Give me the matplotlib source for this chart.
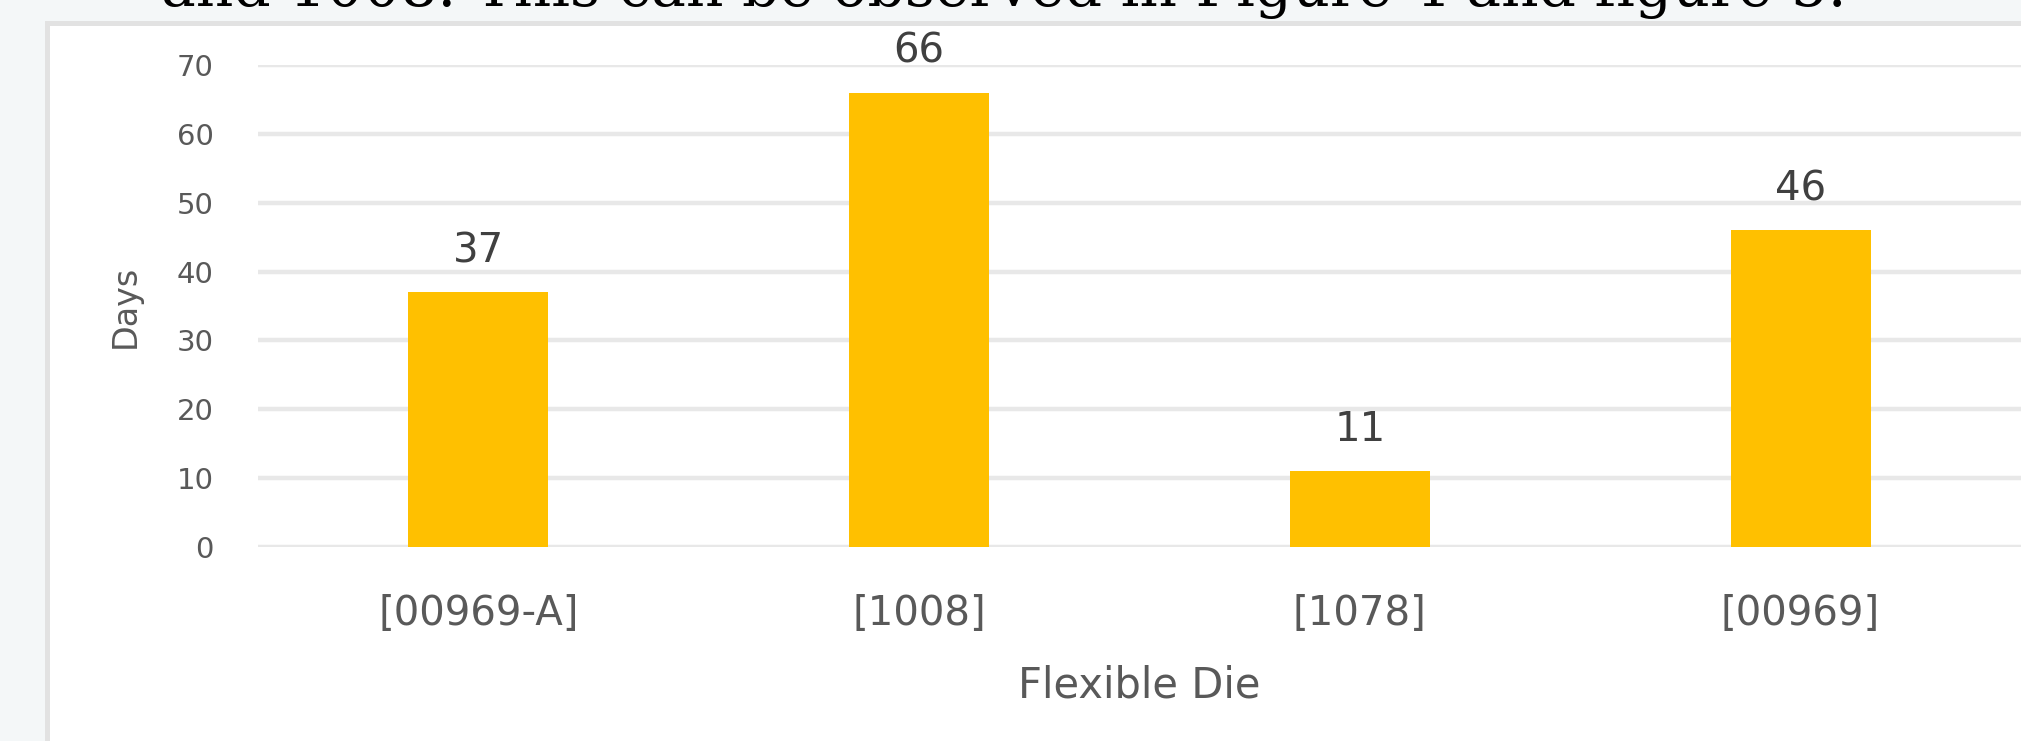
import matplotlib.pyplot as plt
from matplotlib.patches import Rectangle

# flexible die data
dies = ["[00969-A]", "[1008]", "[1078]", "[00969]"]
days = [37, 66, 11, 46]
y_ticks = [0, 10, 20, 30, 40, 50, 60, 70]

W, H = 2021, 741
fig = plt.figure(figsize=(W / 100, H / 100), dpi=100)
fig.patch.set_facecolor("#f4f7f8")

# white chart box with grey border (runs past the right/bottom edge)
box = Rectangle((47 / W, -0.2), 1.2, 1.2 - 22.5 / H,
                transform=fig.transFigure, facecolor="white",
                edgecolor="#e2e2e2", linewidth=3.6, zorder=-10)
fig.add_artist(box)

# document text cut off at the top
fig.text(1004 / W, 1 - 6 / H, "and 1008. This can be observed in Figure 4 and figure 5.",
         ha="center", va="baseline", fontsize=42, family="DejaVu Serif", color="black")

ax = fig.add_axes([258 / W, 1 - 547 / H, 1 - 258 / W, (547 - 65) / H])
ax.set_facecolor("none")

bars = ax.bar(range(len(dies)), days, width=0.318, color="#FFC000", zorder=2)
ax.bar_label(bars, padding=15, fontsize=29, color="#404040")

ax.set_xlim(-0.5, 3.5)
ax.set_ylim(0, 70)
ax.set_yticks(y_ticks)
ax.set_xticks(range(len(dies)))
ax.set_xticklabels(dies)

ax.tick_params(axis="y", length=0, pad=32, labelsize=21, labelcolor="#595959")
ax.tick_params(axis="x", length=0, pad=34, labelsize=29, labelcolor="#595959")

# grid
ax.grid(axis="y", color="#e8e8e8", linewidth=3.2)
ax.set_axisbelow(True)
for s in ax.spines.values():
    s.set_visible(False)

# labels
ax.set_xlabel("Flexible Die", fontsize=30, color="#595959")
ax.xaxis.set_label_coords(0.5, -0.244)
ax.set_ylabel("Days", fontsize=24, color="#595959")
ax.yaxis.set_label_coords(-0.066, 0.5)

fig.savefig("out.png", dpi=100, facecolor=fig.get_facecolor())
